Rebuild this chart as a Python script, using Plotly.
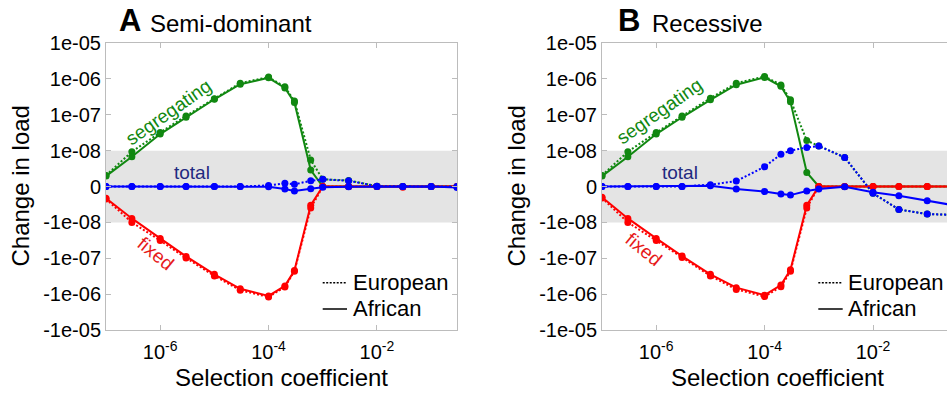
import math
import plotly.graph_objects as go

# ---------------- data ----------------
s = [1e-7, 3e-7, 1e-6, 3e-6, 1e-5, 3e-5, 1e-4, 2e-4, 3e-4, 6e-4,
     1e-3, 3e-3, 1e-2, 3e-2, 1e-1, 3e-1]

# Panel A: semi-dominant
semi_seg_eur = [3.1e-9, 9.7e-9, 3.2e-8, 9.3e-8, 2.8e-7, 7.6e-7, 1.12e-6, 6.0e-7, 2.4e-7, 7.4e-9,
                2.0e-9, 1.7e-9, 1e-10, 0, 0, 0]
semi_seg_afr = [2.9e-9, 8.3e-9, 2.9e-8, 8.5e-8, 2.7e-7, 7.1e-7, 1.07e-6, 5.6e-7, 2.2e-7, 4.6e-9,
                0, 0, 0, 0, 0, 0]
semi_fix_eur = [-3.5e-9, -1.0e-8, -3.2e-8, -9.8e-8, -3.1e-7, -7.8e-7, -1.2e-6, -6.3e-7, -2.3e-7, -6.0e-9,
                0, 0, 0, 0, 0, 0]
semi_fix_afr = [-3.3e-9, -8.9e-9, -2.8e-8, -8.9e-8, -2.8e-7, -7.1e-7, -1.12e-6, -5.9e-7, -2.2e-7, -5.2e-9,
                0, 0, 0, -2e-10, 0, 0]
semi_tot_eur = [0, 0, 0, 0, 0, 0, 3e-10, 9e-10, 6e-10, 1.6e-9,
                2.0e-9, 1.6e-9, 1e-10, 0, 0, 0]
semi_tot_afr = [0, 0, 0, 0, 0, 0, -1e-10, -7e-10, -1.25e-9, -6e-10,
                -2e-10, -1e-10, 0, 0, 0, -3e-10]

# Panel B: recessive
rec_seg_eur = [3.1e-9, 9.7e-9, 3.2e-8, 9.3e-8, 2.9e-7, 7.6e-7, 1.17e-6, 6.8e-7, 2.6e-7, 1.9e-8,
               1.35e-8, 8.1e-9, -1.9e-9, -6.4e-9, -7.7e-9, -7.9e-9]
rec_seg_afr = [2.9e-9, 8.3e-9, 2.9e-8, 8.5e-8, 2.6e-7, 6.9e-7, 1.1e-6, 6.2e-7, 2.3e-7, 3.9e-9,
               0, 0, 0, 0, 0, 0]
rec_fix_eur = [-3.2e-9, -1.0e-8, -3.2e-8, -9.5e-8, -3.1e-7, -7.4e-7, -1.17e-6, -6.2e-7, -2.3e-7, -6.0e-9,
               0, 0, 0, 0, 0, 0]
rec_fix_afr = [-3.0e-9, -8.9e-9, -2.8e-8, -8.7e-8, -2.8e-7, -6.6e-7, -1.07e-6, -5.6e-7, -2.1e-7, -5.2e-9,
               0, 0, 0, 0, 0, 0]
rec_tot_eur = [0, 0, 0, 0, 5e-10, 1.5e-9, 5.5e-9, 9.0e-9, 1.0e-8, 1.23e-8,
               1.35e-8, 8.1e-9, -1.9e-9, -6.4e-9, -7.7e-9, -7.9e-9]
rec_tot_afr = [0, 0, 0, 0, 2e-10, -7e-10, -1.4e-9, -2.1e-9, -2.4e-9, -1.25e-9,
               -7e-10, -1e-10, -1.6e-9, -2.6e-9, -4.0e-9, -5.2e-9]

y_tick_labels = ["1e-05", "1e-06", "1e-07", "1e-08", "0", "-1e-08", "-1e-07", "-1e-06", "-1e-05"]
y_tick_values = [1e-5, 1e-6, 1e-7, 1e-8, 0, -1e-8, -1e-7, -1e-6, -1e-5]
x_tick_values = [1e-6, 1e-4, 1e-2]
x_tick_labels = ["10<sup>-6</sup>", "10<sup>-4</sup>", "10<sup>-2</sup>"]

LINTHRESH = 1e-8


def symlog(v):
    """Symmetric log transform: linear inside +-1e-8, one decade per unit outside."""
    a = abs(v)
    if a <= LINTHRESH:
        return v / LINTHRESH
    return math.copysign(math.log10(a / LINTHRESH) + 1, v)


# ---------------- style ----------------
W, H = 947, 395
FONT = "Liberation Sans, Arial, Helvetica, sans-serif"
GREEN = "#118811"
RED = "#ff0000"
BLUE = "#0000ff"
FRAME = "#bcbcbc"


def px(x):
    return x / W


def py(y):
    return 1 - y / H


fig = go.Figure()

panels = [
    ("x", "y", semi_seg_eur, semi_seg_afr, semi_fix_eur, semi_fix_afr, semi_tot_eur, semi_tot_afr),
    ("x2", "y2", rec_seg_eur, rec_seg_afr, rec_fix_eur, rec_fix_afr, rec_tot_eur, rec_tot_afr),
]

for xa, ya, seg_e, seg_a, fix_e, fix_a, tot_e, tot_a in panels:
    for vals, color, dash in [
        (seg_e, GREEN, "2px,2px"), (seg_a, GREEN, "solid"),
        (fix_e, RED, "2px,2px"), (fix_a, RED, "solid"),
        (tot_e, BLUE, "2px,2px"), (tot_a, BLUE, "solid"),
    ]:
        fig.add_trace(go.Scatter(
            x=s, y=[symlog(v) for v in vals], xaxis=xa, yaxis=ya,
            mode="lines+markers",
            line=dict(color=color, width=2, dash=dash),
            marker=dict(color=color, size=7),
            hoverinfo="skip",
        ))

ytv = [symlog(v) for v in y_tick_values]
axis_common = dict(
    showgrid=False, zeroline=False, showline=True, linecolor=FRAME, linewidth=1,
    ticks="inside", ticklen=5, tickcolor=FRAME, tickwidth=1, automargin=False,
    tickfont=dict(size=20, color="black", family=FONT),
)

xr2 = -7 + (W - 602) / 54.2
fig.update_layout(
    width=W, height=H, autosize=False, margin=dict(l=0, r=0, t=0, b=0, pad=0),
    paper_bgcolor="white", plot_bgcolor="white", showlegend=False,
    font=dict(family=FONT, color="black"),
    xaxis=dict(domain=[px(106), px(457)], type="log", range=[-7, math.log10(0.3)],
               tickvals=x_tick_values, ticktext=x_tick_labels, anchor="y", mirror="ticks",
               ticklabelstandoff=4, **axis_common),
    xaxis2=dict(domain=[px(602), 1.0], type="log", range=[-7, xr2],
                tickvals=x_tick_values, ticktext=x_tick_labels, anchor="y2", mirror="ticks",
                ticklabelstandoff=4, **axis_common),
    yaxis=dict(domain=[py(330), py(43)], range=[-4, 4], tickvals=ytv, ticktext=y_tick_labels,
               anchor="x", mirror="ticks", **axis_common),
    yaxis2=dict(domain=[py(330), py(43)], range=[-4, 4], tickvals=ytv, ticktext=y_tick_labels,
                anchor="x2", mirror=False, **axis_common),
)

# gray band between -1e-8 and 1e-8
for xr, yr in [("x domain", "y"), ("x2 domain", "y2")]:
    fig.add_shape(type="rect", xref=xr, yref=yr, x0=0, x1=1,
                  y0=symlog(-LINTHRESH), y1=symlog(LINTHRESH),
                  fillcolor="#e4e4e4", line=dict(width=0), layer="below")


def ann(x, y, text, size, color="black", angle=0, xanchor="center", yanchor="middle"):
    fig.add_annotation(x=px(x), y=py(y), xref="paper", yref="paper", text=text,
                       showarrow=False, textangle=angle, xanchor=xanchor, yanchor=yanchor,
                       font=dict(size=size, color=color, family=FONT))


# panel titles
ann(117, 21, "<b>A</b>", 31, xanchor="left")
ann(148, 23.5, "Semi-dominant", 24, xanchor="left")
ann(616, 21, "<b>B</b>", 31, xanchor="left")
ann(650, 23.5, "Recessive", 24, xanchor="left")

# axis titles
ann(20, 186.5, "Change in load", 24, angle=-90)
ann(516, 186.5, "Change in load", 24, angle=-90)
ann(281.5, 377, "Selection coefficient", 24)
ann(777.5, 377, "Selection coefficient", 24)

# in-plot labels
ann(168, 112.5, "segregating", 19, GREEN, angle=-35)
ann(659, 111.5, "segregating", 19, GREEN, angle=-35)
ann(191.7, 172, "total", 19, "#1f2a80")
ann(679.7, 172, "total", 19, "#1f2a80")
ann(155.7, 253, "fixed", 19, "#e61a1a", angle=39)
ann(644, 249, "fixed", 19, "#e61a1a", angle=39)

# legends (drawn as keys)
for x0, x1, tx in [(322.7, 347, 350.7), (818.3, 842.7, 846)]:
    fig.add_shape(type="line", xref="paper", yref="paper", x0=px(x0), x1=px(x1),
                  y0=py(282.7), y1=py(282.7), line=dict(color="black", width=1.5, dash="2px,1.5px"))
    fig.add_shape(type="line", xref="paper", yref="paper", x0=px(x0), x1=px(x1),
                  y0=py(309), y1=py(309), line=dict(color="black", width=1.5))
    ann(tx, 282, "European", 22, xanchor="left")
    ann(tx, 308, "African", 22, xanchor="left")

fig.write_html("out.html")
